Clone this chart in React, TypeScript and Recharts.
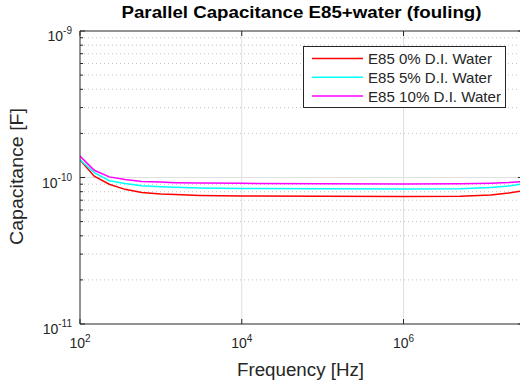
import { Legend, Line, LineChart, ReferenceLine, XAxis, YAxis } from 'recharts';

// frequency in Hz, capacitance in units of 1e-10 F
const FREQ = [100, 150, 230, 360, 580, 1000, 1500, 3000, 1e4, 1e5, 1e6, 5e6, 1.2e7, 2e7, 3e7];
const E85_0 = [1.32, 1.02, 0.9, 0.83, 0.79, 0.772, 0.765, 0.755, 0.748, 0.744, 0.742, 0.745, 0.76, 0.784, 0.81];
const E85_5 = [1.32, 1.08, 0.95, 0.91, 0.88, 0.865, 0.857, 0.848, 0.842, 0.838, 0.835, 0.838, 0.855, 0.875, 0.905];
const E85_10 = [1.4, 1.12, 1.01, 0.97, 0.94, 0.93, 0.922, 0.916, 0.912, 0.907, 0.903, 0.906, 0.915, 0.925, 0.94];

const SERIES = [
  { key: 'w0', name: 'E85 0% D.I. Water', color: '#ff0000', values: E85_0 },
  { key: 'w5', name: 'E85 5% D.I. Water', color: '#00ffff', values: E85_5 },
  { key: 'w10', name: 'E85 10% D.I. Water', color: '#ff00ff', values: E85_10 },
];

const X_TICKS = [1e2, 1e4, 1e6];
const Y_MAJOR = [1e-11, 1e-10, 1e-9];
const Y_MINOR = [2, 3, 4, 5, 6, 7, 8, 9].flatMap((m) => [m * 1e-11, m * 1e-10]);
const Y_TICKS = [...Y_MAJOR, ...Y_MINOR].sort((a, b) => a - b);

const data = FREQ.map((f, i) => {
  const row: Record<string, number> = { f };
  SERIES.forEach((s) => (row[s.key] = s.values[i] * 1e-10));
  return row;
});

const PLOT = { left: 80, top: 31, right: 523, bottom: 324 };
const INK = '#262626';
const FONT = '"Liberation Sans", Arial, Helvetica, sans-serif';

const isMajor = (v: number) => {
  const l = Math.log10(v);
  return Math.abs(l - Math.round(l)) < 1e-6;
};

function BottomTick({ x, payload }: any) {
  const exp = Math.round(Math.log10(payload.value));
  return (
    <g>
      <line x1={x} x2={x} y1={PLOT.bottom} y2={PLOT.bottom - 5} stroke={INK} />
      <text x={x} y={348} textAnchor="middle" fontSize={14} fill={INK} fontFamily={FONT}>
        10<tspan dy={-6} fontSize={10}>{exp}</tspan>
      </text>
    </g>
  );
}

function TopTick({ x }: any) {
  return <line x1={x} x2={x} y1={PLOT.top} y2={PLOT.top + 5} stroke={INK} />;
}

function LeftTick({ y, payload }: any) {
  const major = isMajor(payload.value);
  const exp = Math.round(Math.log10(payload.value));
  return (
    <g>
      <line x1={PLOT.left} x2={PLOT.left + (major ? 5 : 3)} y1={y} y2={y} stroke={INK} />
      {major && (
        <text x={72} y={y + 10} textAnchor="end" fontSize={14} fill={INK} fontFamily={FONT}>
          10<tspan dy={-7} fontSize={10}>{exp}</tspan>
        </text>
      )}
    </g>
  );
}

function RightTick({ y, payload }: any) {
  const major = isMajor(payload.value);
  return <line x1={PLOT.right} x2={PLOT.right - (major ? 5 : 3)} y1={y} y2={y} stroke={INK} />;
}

const LEGEND_TEXT_W: Record<string, number> = { w0: 124, w5: 124, w10: 133 };

function LegendBox({ payload }: any) {
  const items = SERIES.map((s) => (payload || []).find((p: any) => p.dataKey === s.key) || { value: s.name, color: s.color, dataKey: s.key });
  return (
    <svg width={203} height={62} style={{ display: 'block' }}>
      <rect x={0.5} y={0.5} width={202} height={61} fill="#fff" stroke={INK} />
      {items.map((p: any, i: number) => {
        const cy = 12.5 + i * 18.8;
        return (
          <g key={p.dataKey}>
            <line x1={9} x2={60} y1={cy} y2={cy} stroke={p.color} strokeWidth={1.5} />
            <text
              x={65}
              y={cy + 5.5}
              fontSize={15}
              fill={INK}
              fontFamily={FONT}
              textLength={LEGEND_TEXT_W[p.dataKey]}
              lengthAdjust="spacingAndGlyphs"
            >
              {p.value}
            </text>
          </g>
        );
      })}
    </svg>
  );
}

export default function App() {
  return (
    <div
      style={{
        position: 'absolute',
        left: 0,
        top: 0,
        width: 520,
        height: 385,
        overflow: 'hidden',
        background: '#fff',
        fontFamily: FONT,
      }}
    >
      <LineChart width={524} height={385} data={data} margin={{ top: 30, right: 0, bottom: 0, left: 0 }}>
        <XAxis
          dataKey="f"
          type="number"
          scale="log"
          domain={[100, 3e7]}
          ticks={X_TICKS}
          interval={0}
          height={61}
          stroke={INK}
          tickLine={false}
          tick={<BottomTick />}
          allowDataOverflow
        />
        <XAxis
          xAxisId="top"
          orientation="top"
          dataKey="f"
          type="number"
          scale="log"
          domain={[100, 3e7]}
          ticks={X_TICKS}
          interval={0}
          height={1}
          stroke={INK}
          tickLine={false}
          tick={<TopTick />}
          allowDataOverflow
        />
        <YAxis
          type="number"
          scale="log"
          domain={[1e-11, 1e-9]}
          ticks={Y_TICKS}
          interval={0}
          width={80}
          stroke={INK}
          tickLine={false}
          tick={<LeftTick />}
          allowDataOverflow
        />
        <YAxis
          yAxisId="right"
          orientation="right"
          type="number"
          scale="log"
          domain={[1e-11, 1e-9]}
          ticks={Y_TICKS}
          interval={0}
          width={1}
          stroke={INK}
          tickLine={false}
          tick={<RightTick />}
          allowDataOverflow
        />
        {Y_MINOR.map((v) => (
          <ReferenceLine key={v} y={v} stroke="#c4c4c4" strokeDasharray="1 3" />
        ))}
        <ReferenceLine y={1e-10} stroke="#e0e0e0" />
        {X_TICKS.slice(1).map((v) => (
          <ReferenceLine key={v} x={v} stroke="#e0e0e0" />
        ))}
        {SERIES.map((s) => (
          <Line
            key={s.key}
            dataKey={s.key}
            name={s.name}
            stroke={s.color}
            strokeWidth={1.5}
            dot={false}
            type="linear"
            isAnimationActive={false}
          />
        ))}
        <Legend
          layout="vertical"
          align="center"
          verticalAlign="middle"
          content={<LegendBox />}
          wrapperStyle={{ left: 303, top: 46, width: 203, height: 62 }}
        />
      </LineChart>
      <svg
        width={520}
        height={385}
        style={{ position: 'absolute', left: 0, top: 0, pointerEvents: 'none' }}
        fontFamily={FONT}
        fill="#000"
      >
        <text x={301.5} y={18} textAnchor="middle" fontSize={16} fontWeight="bold" textLength={360} lengthAdjust="spacingAndGlyphs">
          Parallel Capacitance E85+water (fouling)
        </text>
        <text x={300.5} y={376} textAnchor="middle" fontSize={18} fill={INK} textLength={127} lengthAdjust="spacingAndGlyphs">
          Frequency [Hz]
        </text>
        <text
          transform="translate(23,176.5) rotate(-90)"
          textAnchor="middle"
          fontSize={18}
          fill={INK}
          textLength={137}
          lengthAdjust="spacingAndGlyphs"
        >
          Capacitance [F]
        </text>
      </svg>
    </div>
  );
}
